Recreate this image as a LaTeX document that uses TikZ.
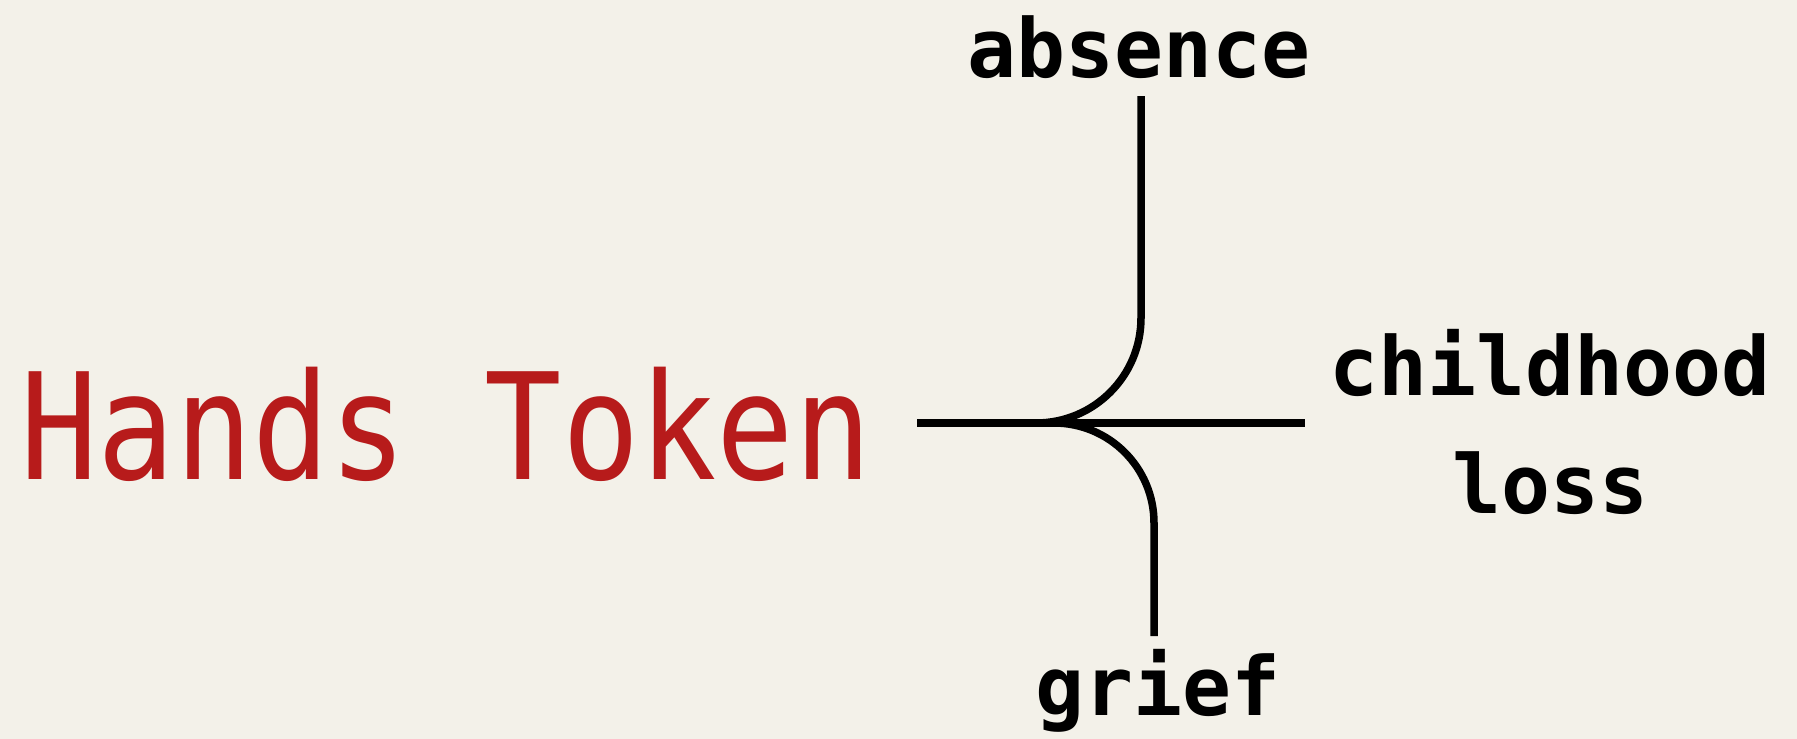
\documentclass[tikz,border=0pt]{standalone}
\usepackage{fontspec}
\usepackage{graphicx}
\newfontfamily\labelfont{DejaVu Sans Mono}[BoldFont={DejaVu Sans Mono Bold}]
\newfontfamily\titlefont{DejaVu Sans Mono}
\definecolor{bgcream}{HTML}{F3F1E9}
\definecolor{titlered}{HTML}{B71B1B}
\begin{document}
\begin{tikzpicture}[x=1pt,y=-1pt,
  lbl/.style={anchor=base, inner sep=0pt, font=\labelfont\bfseries\fontsize{81.4}{118}\selectfont, text=black, align=center},
  branch/.style={draw=black, line width=7.5pt},
  ttl/.style={anchor=base west, inner sep=0pt, text=titlered}]
  \fill[bgcream] (0,0) rectangle (1797,739);
  \useasboundingbox (0,0) rectangle (1797,739);

  \node[ttl] (title) at (20,479) {\scalebox{1}[1.15]{\titlefont\fontsize{128.6}{140}\selectfont Hands Token}};

  \node[lbl] (absence) at (1139,77) {absence};
  \node[lbl] (childhood) at (1550,513) {childhood\\loss};
  \node[lbl] (grief) at (1158,715) {grief};

  \coordinate (src) at (917,423);
  \coordinate (aEnd) at (1141,96);
  \coordinate (cEnd) at (1305,423);
  \coordinate (gEnd) at (1154,636);

  \draw[branch] (src) -- (cEnd);
  \draw[branch, rounded corners=105pt] (src) -| (aEnd);
  \draw[branch, rounded corners=100pt] (src) -| (gEnd);
\end{tikzpicture}
\end{document}
